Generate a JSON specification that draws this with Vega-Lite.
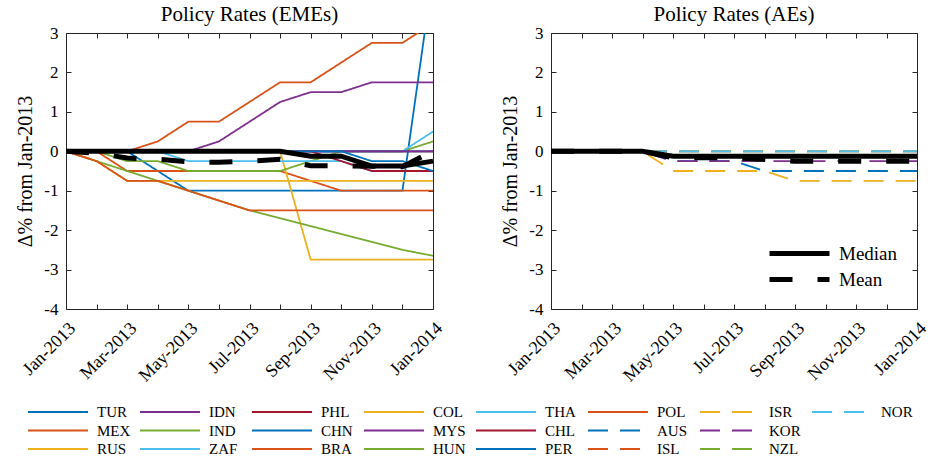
{
"$schema": "https://vega.github.io/schema/vega-lite/v6.json",
"padding": {"left": 15, "top": 4, "right": 14, "bottom": 2},
"bounds": "flush",
"spacing": 118,
"datasets": {
"eme": [
{"country":"TUR","month":"Jan-2013","value":0},{"country":"TUR","month":"Feb-2013","value":0},{"country":"TUR","month":"Mar-2013","value":0},{"country":"TUR","month":"Apr-2013","value":-0.5},{"country":"TUR","month":"May-2013","value":-1},{"country":"TUR","month":"Jun-2013","value":-1},{"country":"TUR","month":"Jul-2013","value":-1},{"country":"TUR","month":"Aug-2013","value":-1},{"country":"TUR","month":"Sep-2013","value":-1},{"country":"TUR","month":"Oct-2013","value":-1},{"country":"TUR","month":"Nov-2013","value":-1},{"country":"TUR","month":"Dec-2013","value":-1},{"country":"TUR","month":"Jan-2014","value":4.5},
{"country":"MEX","month":"Jan-2013","value":0},{"country":"MEX","month":"Feb-2013","value":0},{"country":"MEX","month":"Mar-2013","value":-0.5},{"country":"MEX","month":"Apr-2013","value":-0.5},{"country":"MEX","month":"May-2013","value":-0.5},{"country":"MEX","month":"Jun-2013","value":-0.5},{"country":"MEX","month":"Jul-2013","value":-0.5},{"country":"MEX","month":"Aug-2013","value":-0.5},{"country":"MEX","month":"Sep-2013","value":-0.75},{"country":"MEX","month":"Oct-2013","value":-1},{"country":"MEX","month":"Nov-2013","value":-1},{"country":"MEX","month":"Dec-2013","value":-1},{"country":"MEX","month":"Jan-2014","value":-1},
{"country":"RUS","month":"Jan-2013","value":0},{"country":"RUS","month":"Feb-2013","value":0},{"country":"RUS","month":"Mar-2013","value":0},{"country":"RUS","month":"Apr-2013","value":0},{"country":"RUS","month":"May-2013","value":0},{"country":"RUS","month":"Jun-2013","value":0},{"country":"RUS","month":"Jul-2013","value":0},{"country":"RUS","month":"Aug-2013","value":0},{"country":"RUS","month":"Sep-2013","value":-2.75},{"country":"RUS","month":"Oct-2013","value":-2.75},{"country":"RUS","month":"Nov-2013","value":-2.75},{"country":"RUS","month":"Dec-2013","value":-2.75},{"country":"RUS","month":"Jan-2014","value":-2.75},
{"country":"IDN","month":"Jan-2013","value":0},{"country":"IDN","month":"Feb-2013","value":0},{"country":"IDN","month":"Mar-2013","value":0},{"country":"IDN","month":"Apr-2013","value":0},{"country":"IDN","month":"May-2013","value":0},{"country":"IDN","month":"Jun-2013","value":0.25},{"country":"IDN","month":"Jul-2013","value":0.75},{"country":"IDN","month":"Aug-2013","value":1.25},{"country":"IDN","month":"Sep-2013","value":1.5},{"country":"IDN","month":"Oct-2013","value":1.5},{"country":"IDN","month":"Nov-2013","value":1.75},{"country":"IDN","month":"Dec-2013","value":1.75},{"country":"IDN","month":"Jan-2014","value":1.75},
{"country":"IND","month":"Jan-2013","value":0},{"country":"IND","month":"Feb-2013","value":0},{"country":"IND","month":"Mar-2013","value":-0.25},{"country":"IND","month":"Apr-2013","value":-0.25},{"country":"IND","month":"May-2013","value":-0.5},{"country":"IND","month":"Jun-2013","value":-0.5},{"country":"IND","month":"Jul-2013","value":-0.5},{"country":"IND","month":"Aug-2013","value":-0.5},{"country":"IND","month":"Sep-2013","value":-0.25},{"country":"IND","month":"Oct-2013","value":0},{"country":"IND","month":"Nov-2013","value":0},{"country":"IND","month":"Dec-2013","value":0},{"country":"IND","month":"Jan-2014","value":0.25},
{"country":"ZAF","month":"Jan-2013","value":0},{"country":"ZAF","month":"Feb-2013","value":0},{"country":"ZAF","month":"Mar-2013","value":0},{"country":"ZAF","month":"Apr-2013","value":0},{"country":"ZAF","month":"May-2013","value":0},{"country":"ZAF","month":"Jun-2013","value":0},{"country":"ZAF","month":"Jul-2013","value":0},{"country":"ZAF","month":"Aug-2013","value":0},{"country":"ZAF","month":"Sep-2013","value":0},{"country":"ZAF","month":"Oct-2013","value":0},{"country":"ZAF","month":"Nov-2013","value":0},{"country":"ZAF","month":"Dec-2013","value":0},{"country":"ZAF","month":"Jan-2014","value":0.5},
{"country":"PHL","month":"Jan-2013","value":0},{"country":"PHL","month":"Feb-2013","value":0},{"country":"PHL","month":"Mar-2013","value":0},{"country":"PHL","month":"Apr-2013","value":0},{"country":"PHL","month":"May-2013","value":0},{"country":"PHL","month":"Jun-2013","value":0},{"country":"PHL","month":"Jul-2013","value":0},{"country":"PHL","month":"Aug-2013","value":0},{"country":"PHL","month":"Sep-2013","value":0},{"country":"PHL","month":"Oct-2013","value":0},{"country":"PHL","month":"Nov-2013","value":0},{"country":"PHL","month":"Dec-2013","value":0},{"country":"PHL","month":"Jan-2014","value":0},
{"country":"CHN","month":"Jan-2013","value":0},{"country":"CHN","month":"Feb-2013","value":0},{"country":"CHN","month":"Mar-2013","value":0},{"country":"CHN","month":"Apr-2013","value":0},{"country":"CHN","month":"May-2013","value":0},{"country":"CHN","month":"Jun-2013","value":0},{"country":"CHN","month":"Jul-2013","value":0},{"country":"CHN","month":"Aug-2013","value":0},{"country":"CHN","month":"Sep-2013","value":0},{"country":"CHN","month":"Oct-2013","value":0},{"country":"CHN","month":"Nov-2013","value":0},{"country":"CHN","month":"Dec-2013","value":0},{"country":"CHN","month":"Jan-2014","value":0},
{"country":"BRA","month":"Jan-2013","value":0},{"country":"BRA","month":"Feb-2013","value":0},{"country":"BRA","month":"Mar-2013","value":0},{"country":"BRA","month":"Apr-2013","value":0.25},{"country":"BRA","month":"May-2013","value":0.75},{"country":"BRA","month":"Jun-2013","value":0.75},{"country":"BRA","month":"Jul-2013","value":1.25},{"country":"BRA","month":"Aug-2013","value":1.75},{"country":"BRA","month":"Sep-2013","value":1.75},{"country":"BRA","month":"Oct-2013","value":2.25},{"country":"BRA","month":"Nov-2013","value":2.75},{"country":"BRA","month":"Dec-2013","value":2.75},{"country":"BRA","month":"Jan-2014","value":3.25},
{"country":"COL","month":"Jan-2013","value":0},{"country":"COL","month":"Feb-2013","value":-0.25},{"country":"COL","month":"Mar-2013","value":-0.75},{"country":"COL","month":"Apr-2013","value":-0.75},{"country":"COL","month":"May-2013","value":-0.75},{"country":"COL","month":"Jun-2013","value":-0.75},{"country":"COL","month":"Jul-2013","value":-0.75},{"country":"COL","month":"Aug-2013","value":-0.75},{"country":"COL","month":"Sep-2013","value":-0.75},{"country":"COL","month":"Oct-2013","value":-0.75},{"country":"COL","month":"Nov-2013","value":-0.75},{"country":"COL","month":"Dec-2013","value":-0.75},{"country":"COL","month":"Jan-2014","value":-0.75},
{"country":"MYS","month":"Jan-2013","value":0},{"country":"MYS","month":"Feb-2013","value":0},{"country":"MYS","month":"Mar-2013","value":0},{"country":"MYS","month":"Apr-2013","value":0},{"country":"MYS","month":"May-2013","value":0},{"country":"MYS","month":"Jun-2013","value":0},{"country":"MYS","month":"Jul-2013","value":0},{"country":"MYS","month":"Aug-2013","value":0},{"country":"MYS","month":"Sep-2013","value":0},{"country":"MYS","month":"Oct-2013","value":0},{"country":"MYS","month":"Nov-2013","value":0},{"country":"MYS","month":"Dec-2013","value":0},{"country":"MYS","month":"Jan-2014","value":0},
{"country":"HUN","month":"Jan-2013","value":0},{"country":"HUN","month":"Feb-2013","value":-0.25},{"country":"HUN","month":"Mar-2013","value":-0.5},{"country":"HUN","month":"Apr-2013","value":-0.75},{"country":"HUN","month":"May-2013","value":-1},{"country":"HUN","month":"Jun-2013","value":-1.25},{"country":"HUN","month":"Jul-2013","value":-1.5},{"country":"HUN","month":"Aug-2013","value":-1.7},{"country":"HUN","month":"Sep-2013","value":-1.9},{"country":"HUN","month":"Oct-2013","value":-2.1},{"country":"HUN","month":"Nov-2013","value":-2.3},{"country":"HUN","month":"Dec-2013","value":-2.5},{"country":"HUN","month":"Jan-2014","value":-2.65},
{"country":"THA","month":"Jan-2013","value":0},{"country":"THA","month":"Feb-2013","value":0},{"country":"THA","month":"Mar-2013","value":0},{"country":"THA","month":"Apr-2013","value":0},{"country":"THA","month":"May-2013","value":-0.25},{"country":"THA","month":"Jun-2013","value":-0.25},{"country":"THA","month":"Jul-2013","value":-0.25},{"country":"THA","month":"Aug-2013","value":-0.25},{"country":"THA","month":"Sep-2013","value":-0.25},{"country":"THA","month":"Oct-2013","value":-0.25},{"country":"THA","month":"Nov-2013","value":-0.5},{"country":"THA","month":"Dec-2013","value":-0.5},{"country":"THA","month":"Jan-2014","value":-0.5},
{"country":"CHL","month":"Jan-2013","value":0},{"country":"CHL","month":"Feb-2013","value":0},{"country":"CHL","month":"Mar-2013","value":0},{"country":"CHL","month":"Apr-2013","value":0},{"country":"CHL","month":"May-2013","value":0},{"country":"CHL","month":"Jun-2013","value":0},{"country":"CHL","month":"Jul-2013","value":0},{"country":"CHL","month":"Aug-2013","value":0},{"country":"CHL","month":"Sep-2013","value":0},{"country":"CHL","month":"Oct-2013","value":-0.25},{"country":"CHL","month":"Nov-2013","value":-0.5},{"country":"CHL","month":"Dec-2013","value":-0.5},{"country":"CHL","month":"Jan-2014","value":-0.5},
{"country":"PER","month":"Jan-2013","value":0},{"country":"PER","month":"Feb-2013","value":0},{"country":"PER","month":"Mar-2013","value":0},{"country":"PER","month":"Apr-2013","value":0},{"country":"PER","month":"May-2013","value":0},{"country":"PER","month":"Jun-2013","value":0},{"country":"PER","month":"Jul-2013","value":0},{"country":"PER","month":"Aug-2013","value":0},{"country":"PER","month":"Sep-2013","value":0},{"country":"PER","month":"Oct-2013","value":0},{"country":"PER","month":"Nov-2013","value":-0.25},{"country":"PER","month":"Dec-2013","value":-0.25},{"country":"PER","month":"Jan-2014","value":-0.5},
{"country":"POL","month":"Jan-2013","value":0},{"country":"POL","month":"Feb-2013","value":-0.25},{"country":"POL","month":"Mar-2013","value":-0.75},{"country":"POL","month":"Apr-2013","value":-0.75},{"country":"POL","month":"May-2013","value":-1},{"country":"POL","month":"Jun-2013","value":-1.25},{"country":"POL","month":"Jul-2013","value":-1.5},{"country":"POL","month":"Aug-2013","value":-1.5},{"country":"POL","month":"Sep-2013","value":-1.5},{"country":"POL","month":"Oct-2013","value":-1.5},{"country":"POL","month":"Nov-2013","value":-1.5},{"country":"POL","month":"Dec-2013","value":-1.5},{"country":"POL","month":"Jan-2014","value":-1.5}
],
"emestat": [
{"stat":"Median","month":"Jan-2013","value":0},{"stat":"Median","month":"Feb-2013","value":0},{"stat":"Median","month":"Mar-2013","value":0},{"stat":"Median","month":"Apr-2013","value":0},{"stat":"Median","month":"May-2013","value":0},{"stat":"Median","month":"Jun-2013","value":0},{"stat":"Median","month":"Jul-2013","value":0},{"stat":"Median","month":"Aug-2013","value":0},{"stat":"Median","month":"Sep-2013","value":-0.125},{"stat":"Median","month":"Oct-2013","value":-0.125},{"stat":"Median","month":"Nov-2013","value":-0.375},{"stat":"Median","month":"Dec-2013","value":-0.375},{"stat":"Median","month":"Jan-2014","value":-0.25},
{"stat":"Mean","month":"Jan-2013","value":0},{"stat":"Mean","month":"Feb-2013","value":-0.047},{"stat":"Mean","month":"Mar-2013","value":-0.172},{"stat":"Mean","month":"Apr-2013","value":-0.203},{"stat":"Mean","month":"May-2013","value":-0.266},{"stat":"Mean","month":"Jun-2013","value":-0.281},{"stat":"Mean","month":"Jul-2013","value":-0.25},{"stat":"Mean","month":"Aug-2013","value":-0.2},{"stat":"Mean","month":"Sep-2013","value":-0.369},{"stat":"Mean","month":"Oct-2013","value":-0.366},{"stat":"Mean","month":"Nov-2013","value":-0.378},{"stat":"Mean","month":"Dec-2013","value":-0.391},{"stat":"Mean","month":"Jan-2014","value":0.006}
],
"ae": [
{"country":"AUS","month":"Jan-2013","value":0},{"country":"AUS","month":"Feb-2013","value":0},{"country":"AUS","month":"Mar-2013","value":0},{"country":"AUS","month":"Apr-2013","value":0},{"country":"AUS","month":"May-2013","value":-0.25},{"country":"AUS","month":"Jun-2013","value":-0.25},{"country":"AUS","month":"Jul-2013","value":-0.25},{"country":"AUS","month":"Aug-2013","value":-0.5},{"country":"AUS","month":"Sep-2013","value":-0.5},{"country":"AUS","month":"Oct-2013","value":-0.5},{"country":"AUS","month":"Nov-2013","value":-0.5},{"country":"AUS","month":"Dec-2013","value":-0.5},{"country":"AUS","month":"Jan-2014","value":-0.5},
{"country":"ISL","month":"Jan-2013","value":0},{"country":"ISL","month":"Feb-2013","value":0},{"country":"ISL","month":"Mar-2013","value":0},{"country":"ISL","month":"Apr-2013","value":0},{"country":"ISL","month":"May-2013","value":0},{"country":"ISL","month":"Jun-2013","value":0},{"country":"ISL","month":"Jul-2013","value":0},{"country":"ISL","month":"Aug-2013","value":0},{"country":"ISL","month":"Sep-2013","value":0},{"country":"ISL","month":"Oct-2013","value":0},{"country":"ISL","month":"Nov-2013","value":0},{"country":"ISL","month":"Dec-2013","value":0},{"country":"ISL","month":"Jan-2014","value":0},
{"country":"ISR","month":"Jan-2013","value":0},{"country":"ISR","month":"Feb-2013","value":0},{"country":"ISR","month":"Mar-2013","value":0},{"country":"ISR","month":"Apr-2013","value":0},{"country":"ISR","month":"May-2013","value":-0.5},{"country":"ISR","month":"Jun-2013","value":-0.5},{"country":"ISR","month":"Jul-2013","value":-0.5},{"country":"ISR","month":"Aug-2013","value":-0.5},{"country":"ISR","month":"Sep-2013","value":-0.75},{"country":"ISR","month":"Oct-2013","value":-0.75},{"country":"ISR","month":"Nov-2013","value":-0.75},{"country":"ISR","month":"Dec-2013","value":-0.75},{"country":"ISR","month":"Jan-2014","value":-0.75},
{"country":"KOR","month":"Jan-2013","value":0},{"country":"KOR","month":"Feb-2013","value":0},{"country":"KOR","month":"Mar-2013","value":0},{"country":"KOR","month":"Apr-2013","value":0},{"country":"KOR","month":"May-2013","value":-0.25},{"country":"KOR","month":"Jun-2013","value":-0.25},{"country":"KOR","month":"Jul-2013","value":-0.25},{"country":"KOR","month":"Aug-2013","value":-0.25},{"country":"KOR","month":"Sep-2013","value":-0.25},{"country":"KOR","month":"Oct-2013","value":-0.25},{"country":"KOR","month":"Nov-2013","value":-0.25},{"country":"KOR","month":"Dec-2013","value":-0.25},{"country":"KOR","month":"Jan-2014","value":-0.25},
{"country":"NZL","month":"Jan-2013","value":0},{"country":"NZL","month":"Feb-2013","value":0},{"country":"NZL","month":"Mar-2013","value":0},{"country":"NZL","month":"Apr-2013","value":0},{"country":"NZL","month":"May-2013","value":0},{"country":"NZL","month":"Jun-2013","value":0},{"country":"NZL","month":"Jul-2013","value":0},{"country":"NZL","month":"Aug-2013","value":0},{"country":"NZL","month":"Sep-2013","value":0},{"country":"NZL","month":"Oct-2013","value":0},{"country":"NZL","month":"Nov-2013","value":0},{"country":"NZL","month":"Dec-2013","value":0},{"country":"NZL","month":"Jan-2014","value":0},
{"country":"NOR","month":"Jan-2013","value":0},{"country":"NOR","month":"Feb-2013","value":0},{"country":"NOR","month":"Mar-2013","value":0},{"country":"NOR","month":"Apr-2013","value":0},{"country":"NOR","month":"May-2013","value":0},{"country":"NOR","month":"Jun-2013","value":0},{"country":"NOR","month":"Jul-2013","value":0},{"country":"NOR","month":"Aug-2013","value":0},{"country":"NOR","month":"Sep-2013","value":0},{"country":"NOR","month":"Oct-2013","value":0},{"country":"NOR","month":"Nov-2013","value":0},{"country":"NOR","month":"Dec-2013","value":0},{"country":"NOR","month":"Jan-2014","value":0}
],
"aestat": [
{"stat":"Median","month":"Jan-2013","value":0},{"stat":"Median","month":"Feb-2013","value":0},{"stat":"Median","month":"Mar-2013","value":0},{"stat":"Median","month":"Apr-2013","value":0},{"stat":"Median","month":"May-2013","value":-0.125},{"stat":"Median","month":"Jun-2013","value":-0.125},{"stat":"Median","month":"Jul-2013","value":-0.125},{"stat":"Median","month":"Aug-2013","value":-0.125},{"stat":"Median","month":"Sep-2013","value":-0.125},{"stat":"Median","month":"Oct-2013","value":-0.125},{"stat":"Median","month":"Nov-2013","value":-0.125},{"stat":"Median","month":"Dec-2013","value":-0.125},{"stat":"Median","month":"Jan-2014","value":-0.125},
{"stat":"Mean","month":"Jan-2013","value":0},{"stat":"Mean","month":"Feb-2013","value":0},{"stat":"Mean","month":"Mar-2013","value":0},{"stat":"Mean","month":"Apr-2013","value":0},{"stat":"Mean","month":"May-2013","value":-0.167},{"stat":"Mean","month":"Jun-2013","value":-0.167},{"stat":"Mean","month":"Jul-2013","value":-0.167},{"stat":"Mean","month":"Aug-2013","value":-0.208},{"stat":"Mean","month":"Sep-2013","value":-0.25},{"stat":"Mean","month":"Oct-2013","value":-0.25},{"stat":"Mean","month":"Nov-2013","value":-0.25},{"stat":"Mean","month":"Dec-2013","value":-0.25},{"stat":"Mean","month":"Jan-2014","value":-0.25}
]
},
"hconcat": [
{
"width": 367, "height": 276,
"title": {"text": "Policy Rates (EMEs)"},
"layer": [
{
"data": {"name": "eme"},
"mark": {"type": "line", "strokeWidth": 1.8, "clip": true},
"encoding": {
"x": {"field": "month", "type": "ordinal", "sort": ["Jan-2013","Feb-2013","Mar-2013","Apr-2013","May-2013","Jun-2013","Jul-2013","Aug-2013","Sep-2013","Oct-2013","Nov-2013","Dec-2013","Jan-2014"], "scale": {"type": "point", "padding": 0},
 "axis": {"orient": "bottom", "title": null, "labelAngle": -45, "labelAlign": "right", "labelBaseline": "top", "labelPadding": 15, "labelFontSize": 18, "labelExpr": "indexof(['Jan','Mar','May','Jul','Sep','Nov'], slice(datum.label,0,3)) >= 0 ? datum.label : ''"}},
"y": {"field": "value", "type": "quantitative", "scale": {"domain": [-4, 3], "nice": false, "zero": false},
 "axis": {"orient": "left", "title": "Δ% from Jan-2013", "values": [-4,-3,-2,-1,0,1,2,3], "labelExpr": "datum.value < 0 ? '-' + (-datum.value) : '' + datum.value", "titlePadding": 8}},
"color": {"field": "country", "type": "nominal",
 "scale": {"domain": ["TUR","IDN","PHL","COL","THA","POL","ISR","NOR","MEX","IND","CHN","MYS","CHL","AUS","KOR"," ","RUS","ZAF","BRA","HUN","PER","ISL","NZL","  "],
  "range": ["#0072BD","#7E2F8E","#A2142F","#EDB120","#4DBEEE","#D95319","#EDB120","#4DBEEE","#D95319","#77AC30","#0072BD","#7E2F8E","#A2142F","#0072BD","#7E2F8E","transparent","#EDB120","#4DBEEE","#D95319","#77AC30","#0072BD","#D95319","#77AC30","transparent"]},
 "legend": {"orient": "none", "legendX": -39, "legendY": 372, "title": null, "columns": 8, "direction": "horizontal", "symbolType": "stroke", "symbolSize": 3600, "symbolStrokeWidth": 2, "clipHeight": 14, "rowPadding": 3.5, "columnPadding": 8, "gridAlign": "all", "labelFontSize": 15, "labelOffset": 8, "labelColor": "black", "padding": 0, "labelLimit": 80}},
"strokeDash": {"field": "country", "type": "nominal",
 "scale": {"domain": ["TUR","IDN","PHL","COL","THA","POL","ISR","NOR","MEX","IND","CHN","MYS","CHL","AUS","KOR"," ","RUS","ZAF","BRA","HUN","PER","ISL","NZL","  "],
  "range": [[1,0],[1,0],[1,0],[1,0],[1,0],[1,0],[20,12],[20,12],[1,0],[1,0],[1,0],[1,0],[1,0],[20,12],[20,12],[1,0],[1,0],[1,0],[1,0],[1,0],[1,0],[20,12],[20,12],[1,0]]},
 "legend": {"orient": "none", "legendX": -39, "legendY": 372, "title": null, "columns": 8, "direction": "horizontal", "symbolType": "stroke", "symbolSize": 3600, "symbolStrokeWidth": 2, "clipHeight": 14, "rowPadding": 3.5, "columnPadding": 8, "gridAlign": "all", "labelFontSize": 15, "labelOffset": 8, "labelColor": "black", "padding": 0, "labelLimit": 80}}
}
},
{
"data": {"name": "emestat"},
"transform": [{"filter": "datum.stat === 'Median'"}],
"mark": {"type": "line", "color": "black", "strokeWidth": 5},
"encoding": {
"x": {"field": "month", "type": "ordinal", "sort": ["Jan-2013","Feb-2013","Mar-2013","Apr-2013","May-2013","Jun-2013","Jul-2013","Aug-2013","Sep-2013","Oct-2013","Nov-2013","Dec-2013","Jan-2014"], "axis": null},
"y": {"field": "value", "type": "quantitative", "axis": null}
}
},
{
"data": {"name": "emestat"},
"transform": [{"filter": "datum.stat === 'Mean'"}],
"mark": {"type": "line", "color": "black", "strokeWidth": 5, "strokeDash": [23, 25]},
"encoding": {
"x": {"field": "month", "type": "ordinal", "sort": ["Jan-2013","Feb-2013","Mar-2013","Apr-2013","May-2013","Jun-2013","Jul-2013","Aug-2013","Sep-2013","Oct-2013","Nov-2013","Dec-2013","Jan-2014"], "axis": null},
"y": {"field": "value", "type": "quantitative", "axis": null}
}
},
{
"data": {"name": "emestat"},
"mark": {"type": "line", "strokeOpacity": 0},
"encoding": {
"x": {"field": "month", "type": "ordinal", "sort": ["Jan-2013","Feb-2013","Mar-2013","Apr-2013","May-2013","Jun-2013","Jul-2013","Aug-2013","Sep-2013","Oct-2013","Nov-2013","Dec-2013","Jan-2014"], "axis": {"orient": "top", "labels": false, "title": null}},
"y": {"field": "value", "type": "quantitative", "axis": {"orient": "right", "labels": false, "title": null, "values": [-4,-3,-2,-1,0,1,2,3]}}
}
}
],
"resolve": {"axis": {"x": "independent", "y": "independent"}}
},
{
"width": 366, "height": 276,
"title": {"text": "Policy Rates (AEs)"},
"layer": [
{
"data": {"name": "ae"},
"mark": {"type": "line", "strokeWidth": 1.8, "clip": true, "strokeDash": [20, 12]},
"encoding": {
"x": {"field": "month", "type": "ordinal", "sort": ["Jan-2013","Feb-2013","Mar-2013","Apr-2013","May-2013","Jun-2013","Jul-2013","Aug-2013","Sep-2013","Oct-2013","Nov-2013","Dec-2013","Jan-2014"], "scale": {"type": "point", "padding": 0},
 "axis": {"orient": "bottom", "title": null, "labelAngle": -45, "labelAlign": "right", "labelBaseline": "top", "labelPadding": 15, "labelFontSize": 18, "labelExpr": "indexof(['Jan','Mar','May','Jul','Sep','Nov'], slice(datum.label,0,3)) >= 0 ? datum.label : ''"}},
"y": {"field": "value", "type": "quantitative", "scale": {"domain": [-4, 3], "nice": false, "zero": false},
 "axis": {"orient": "left", "title": "Δ% from Jan-2013", "values": [-4,-3,-2,-1,0,1,2,3], "labelExpr": "datum.value < 0 ? '-' + (-datum.value) : '' + datum.value", "titlePadding": 8}},
"color": {"field": "country", "type": "nominal",
 "scale": {"domain": ["AUS","ISL","ISR","KOR","NZL","NOR"], "range": ["#0072BD","#D95319","#EDB120","#7E2F8E","#77AC30","#4DBEEE"]},
 "legend": null}
}
},
{
"data": {"name": "aestat"},
"mark": {"type": "line", "color": "black", "strokeWidth": 5},
"encoding": {
"x": {"field": "month", "type": "ordinal", "sort": ["Jan-2013","Feb-2013","Mar-2013","Apr-2013","May-2013","Jun-2013","Jul-2013","Aug-2013","Sep-2013","Oct-2013","Nov-2013","Dec-2013","Jan-2014"], "axis": null},
"y": {"field": "value", "type": "quantitative", "axis": null},
"strokeDash": {"field": "stat", "type": "nominal", "scale": {"domain": ["Median", "Mean"], "range": [[1, 0], [23, 25]]},
 "legend": {"orient": "bottom-right", "offset": 19, "title": null, "symbolType": "stroke", "symbolSize": 3600, "symbolStrokeWidth": 5, "symbolStrokeColor": "black", "clipHeight": 19, "rowPadding": 6, "labelFontSize": 19, "labelOffset": 7, "labelColor": "black", "padding": 0}}
}
},
{
"data": {"name": "aestat"},
"mark": {"type": "line", "strokeOpacity": 0},
"encoding": {
"x": {"field": "month", "type": "ordinal", "sort": ["Jan-2013","Feb-2013","Mar-2013","Apr-2013","May-2013","Jun-2013","Jul-2013","Aug-2013","Sep-2013","Oct-2013","Nov-2013","Dec-2013","Jan-2014"], "axis": {"orient": "top", "labels": false, "title": null}},
"y": {"field": "value", "type": "quantitative", "axis": {"orient": "right", "labels": false, "title": null, "values": [-4,-3,-2,-1,0,1,2,3]}}
}
}
],
"resolve": {"axis": {"x": "independent", "y": "independent"}}
}
],
"resolve": {"scale": {"color": "independent", "strokeDash": "independent"}, "legend": {"color": "independent", "strokeDash": "independent"}},
"config": {
"font": "Liberation Serif",
"view": {"stroke": null},
"title": {"fontSize": 21, "fontWeight": "normal", "color": "black", "font": "Liberation Serif", "offset": -1},
"axis": {"labelFont": "Liberation Serif", "titleFont": "Liberation Serif", "labelFontSize": 17, "titleFontSize": 20, "titleFontWeight": "normal", "labelColor": "black", "titleColor": "black", "domainColor": "#262626", "tickColor": "#262626", "grid": false, "tickSize": -5, "labelPadding": 13},
"legend": {"labelFont": "Liberation Serif"}
}
}
